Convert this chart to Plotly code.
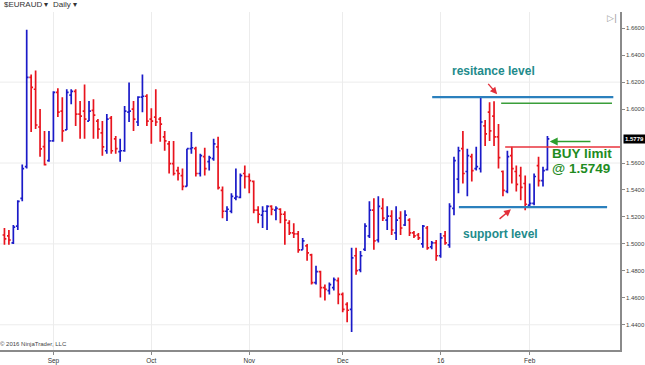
import plotly.graph_objects as go

# ---------------- data (daily EURAUD bars, index = trading day) ----------------
opens = [1.5066, 1.5059, 1.5007, 1.5132, 1.5338, 1.5573, 1.6235, 1.6147, 1.5867, 1.5721,
         1.5618, 1.5764, 1.6124, 1.5985, 1.5845, 1.6103, 1.6132, 1.5963, 1.5985, 1.5911,
         1.5990, 1.5911, 1.5823, 1.5691, 1.5933, 1.5779, 1.5684, 1.5691, 1.5977, 1.6000,
         1.5904, 1.6088, 1.6095, 1.5926, 1.5941, 1.5926, 1.5794, 1.5742, 1.5595, 1.5544,
         1.5507, 1.5426, 1.5706, 1.5706, 1.5522, 1.5647, 1.5610, 1.5632, 1.5720, 1.5397,
         1.5242, 1.5242, 1.5340, 1.5345, 1.5522, 1.5500, 1.5463, 1.5250, 1.5213, 1.5242,
         1.5279, 1.5250, 1.5257, 1.5220, 1.5154, 1.5081, 1.5074, 1.4956, 1.4985, 1.4919,
         1.4713, 1.4794, 1.4676, 1.4654, 1.4676, 1.4728, 1.4625, 1.4552, 1.4515, 1.4912,
         1.4808, 1.4960, 1.5059, 1.5250, 1.5029, 1.5264, 1.5176, 1.5206, 1.5081, 1.5191,
         1.5140, 1.5176, 1.5081, 1.5066, 1.5000, 1.5118, 1.4978, 1.5007, 1.4912, 1.5059,
         1.4993, 1.5264, 1.5480, 1.5706, 1.5537, 1.5647, 1.5559, 1.5559, 1.5875, 1.5977,
         1.5948, 1.5794, 1.5537, 1.5389, 1.5654, 1.5537, 1.5507, 1.5448, 1.5287, 1.5301,
         1.5580, 1.5470, 1.5551]
highs = [1.5118, 1.5103, 1.5140, 1.5323, 1.5588, 1.6588, 1.6257, 1.6286, 1.6000, 1.5838,
         1.5838, 1.6132, 1.6154, 1.6088, 1.6147, 1.6147, 1.6147, 1.6059, 1.6183, 1.6059,
         1.6073, 1.5926, 1.5911, 1.5963, 1.5948, 1.5801, 1.5779, 1.6022, 1.6198, 1.6059,
         1.6095, 1.6257, 1.6110, 1.6007, 1.6147, 1.5941, 1.5838, 1.5764, 1.5764, 1.5573,
         1.5559, 1.5706, 1.5830, 1.5720, 1.5669, 1.5713, 1.5654, 1.5779, 1.5794, 1.5426,
         1.5279, 1.5375, 1.5559, 1.5522, 1.5581, 1.5522, 1.5470, 1.5279, 1.5279, 1.5287,
         1.5287, 1.5279, 1.5264, 1.5242, 1.5176, 1.5154, 1.5096, 1.5044, 1.5000, 1.4926,
         1.4838, 1.4801, 1.4698, 1.4713, 1.4750, 1.4750, 1.4640, 1.4567, 1.4971, 1.4971,
         1.4948, 1.5154, 1.5316, 1.5338, 1.5353, 1.5338, 1.5279, 1.5250, 1.5279, 1.5242,
         1.5250, 1.5191, 1.5096, 1.5081, 1.5140, 1.5132, 1.5022, 1.5029, 1.5081, 1.5096,
         1.5301, 1.5647, 1.5720, 1.5838, 1.5706, 1.5669, 1.5720, 1.6088, 1.5919, 1.6051,
         1.6058, 1.5889, 1.5544, 1.5691, 1.5720, 1.5581, 1.5573, 1.5507, 1.5448, 1.5522,
         1.5647, 1.5573, 1.5801]
lows = [1.4993, 1.4993, 1.4999, 1.5103, 1.5316, 1.5559, 1.5830, 1.5852, 1.5647, 1.5581,
        1.5610, 1.5757, 1.5941, 1.5757, 1.5845, 1.6036, 1.5875, 1.5779, 1.5779, 1.5911,
        1.5779, 1.5779, 1.5654, 1.5669, 1.5669, 1.5669, 1.5610, 1.5684, 1.5904, 1.5838,
        1.5875, 1.5977, 1.5875, 1.5742, 1.5875, 1.5757, 1.5691, 1.5522, 1.5507, 1.5470,
        1.5397, 1.5426, 1.5669, 1.5500, 1.5500, 1.5507, 1.5544, 1.5617, 1.5404, 1.5191,
        1.5169, 1.5228, 1.5323, 1.5338, 1.5411, 1.5375, 1.5228, 1.5154, 1.5118, 1.5103,
        1.5213, 1.5176, 1.5154, 1.4993, 1.5066, 1.5044, 1.4934, 1.4956, 1.4875, 1.4698,
        1.4698, 1.4603, 1.4581, 1.4625, 1.4654, 1.4552, 1.4493, 1.4419, 1.4346, 1.4772,
        1.4790, 1.4948, 1.5044, 1.4956, 1.5010, 1.5169, 1.5103, 1.5066, 1.5029, 1.5066,
        1.5132, 1.5059, 1.5044, 1.5029, 1.4971, 1.4956, 1.4960, 1.4875, 1.4897, 1.4993,
        1.4971, 1.5213, 1.5375, 1.5448, 1.5353, 1.5463, 1.5544, 1.5530, 1.5727, 1.5764,
        1.5727, 1.5559, 1.5353, 1.5375, 1.5448, 1.5389, 1.5323, 1.5250, 1.5272, 1.5287,
        1.5426, 1.5426, 1.5544]
closes = [1.5037, 1.5029, 1.5125, 1.5316, 1.5559, 1.6235, 1.6161, 1.5882, 1.5705, 1.5588,
          1.5764, 1.6124, 1.5977, 1.5838, 1.6124, 1.6132, 1.5963, 1.5948, 1.5926, 1.5985,
          1.5955, 1.5852, 1.5720, 1.5926, 1.5691, 1.5706, 1.5691, 1.5985, 1.5985, 1.5926,
          1.6088, 1.6095, 1.5911, 1.5911, 1.5904, 1.5889, 1.5764, 1.5595, 1.5522, 1.5522,
          1.5426, 1.5706, 1.5713, 1.5522, 1.5654, 1.5559, 1.5640, 1.5742, 1.5418, 1.5242,
          1.5257, 1.5353, 1.5350, 1.5507, 1.5500, 1.5470, 1.5250, 1.5220, 1.5242, 1.5279,
          1.5257, 1.5264, 1.5220, 1.5176, 1.5081, 1.5074, 1.4956, 1.5022, 1.4934, 1.4713,
          1.4794, 1.4676, 1.4662, 1.4698, 1.4735, 1.4625, 1.4515, 1.4508, 1.4897, 1.4801,
          1.4912, 1.5132, 1.5250, 1.5022, 1.5279, 1.5191, 1.5206, 1.5103, 1.5176, 1.5118,
          1.5213, 1.5081, 1.5059, 1.5044, 1.5132, 1.4971, 1.5007, 1.4912, 1.5044, 1.5007,
          1.5279, 1.5617, 1.5691, 1.5522, 1.5654, 1.5544, 1.5573, 1.5904, 1.5816, 1.5838,
          1.5794, 1.5640, 1.5397, 1.5647, 1.5559, 1.5441, 1.5419, 1.5294, 1.5301, 1.5500,
          1.5470, 1.5544, 1.5779]
bar_index = list(range(len(closes)))

month_tick_index = [11, 33, 55, 76, 98, 118]
month_tick_labels = ["Sep", "Oct", "Nov", "Dec", "16", "Feb"]

price_ticks = [1.44, 1.46, 1.48, 1.50, 1.52, 1.54, 1.56, 1.60, 1.62, 1.64, 1.66]
price_tick_labels = ["%.4f" % v for v in price_ticks]
grid_levels = [1.44, 1.50, 1.56, 1.62]

resistance_level = 1.6088
green_level = 1.6044
buy_line_level = 1.5718
support_level = 1.5272
arrow_level = 1.5759
last_price = 1.5779

# ---------------- figure ----------------
fig = go.Figure()
fig.add_trace(go.Ohlc(
    x=bar_index, open=opens, high=highs, low=lows, close=closes,
    increasing=dict(line=dict(color="#1a1ac8", width=1.7)),
    decreasing=dict(line=dict(color="#e8141e", width=1.7)),
    tickwidth=0.42, hoverinfo="skip", showlegend=False,
))

shapes = []
for g in grid_levels:
    shapes.append(dict(type="line", xref="paper", x0=0, x1=1, yref="y", y0=g, y1=g,
                       line=dict(color="#ececec", width=1), layer="below"))
shapes += [
    dict(type="line", xref="x", x0=96.1, x1=136.8, yref="y", y0=resistance_level, y1=resistance_level,
         line=dict(color="#2b80bd", width=2.2)),
    dict(type="line", xref="x", x0=111.6, x1=136.5, yref="y", y0=green_level, y1=green_level,
         line=dict(color="#3a9e3a", width=1.5)),
    dict(type="line", xref="x", x0=112.5, x1=138.3, yref="y", y0=buy_line_level, y1=buy_line_level,
         line=dict(color="#e8333d", width=1.5)),
    dict(type="line", xref="x", x0=102.1, x1=135.4, yref="y", y0=support_level, y1=support_level,
         line=dict(color="#2b80bd", width=2.2)),
]

teal = "#228b8b"
green = "#1f8c1f"
annotations = [
    dict(x=109.8, y=1.6279, xref="x", yref="y", text="<b>resitance level</b>", showarrow=False,
         font=dict(family="Liberation Sans, Arial", size=12, color=teal)),
    dict(x=111.4, y=1.5073, xref="x", yref="y", text="<b>support level</b>", showarrow=False,
         font=dict(family="Liberation Sans, Arial", size=12, color=teal)),
    dict(x=122.6, y=1.5669, xref="x", yref="y", text="<b>BUY limit</b>", showarrow=False,
         xanchor="left", font=dict(family="Liberation Sans, Arial", size=13.5, color=green)),
    dict(x=122.6, y=1.5562, xref="x", yref="y", text="<b>@ 1.5749</b>", showarrow=False,
         xanchor="left", font=dict(family="Liberation Sans, Arial", size=13.5, color=green)),
    # arrows
    dict(x=122.5, y=arrow_level, ax=132.0, ay=arrow_level, xref="x", yref="y", axref="x", ayref="y",
         text="", showarrow=True, arrowhead=2, arrowsize=1, arrowwidth=1.6, arrowcolor="#2e9e2e"),
    dict(x=110.7, y=1.6110, ax=108.4, ay=1.6198, xref="x", yref="y", axref="x", ayref="y",
         text="", showarrow=True, arrowhead=2, arrowsize=1, arrowwidth=1.4, arrowcolor="#e3303a"),
    dict(x=113.8, y=1.5257, ax=110.9, ay=1.5176, xref="x", yref="y", axref="x", ayref="y",
         text="", showarrow=True, arrowhead=2, arrowsize=1, arrowwidth=1.4, arrowcolor="#e3303a"),
    # last price tag
    dict(x=1.0, y=last_price, xref="paper", yref="y", text="<b>1.5779</b>", showarrow=False,
         xanchor="left", xshift=3, bgcolor="#000000", borderpad=1,
         font=dict(family="Liberation Sans, Arial", size=6, color="#ffffff")),
    # toolbar / misc text
    dict(x=0.003, y=1.022, xref="paper", yref="paper", text="$EURAUD ▾  Daily ▾", showarrow=False,
         xanchor="left", yanchor="middle", font=dict(family="Liberation Sans, Arial", size=8, color="#333333")),
    dict(x=0.987, y=0.982, xref="paper", yref="paper", text="▷|", showarrow=False,
         xanchor="center", yanchor="middle", font=dict(family="DejaVu Sans", size=9, color="#9a9a9a")),
    dict(x=-0.004, y=0.004, xref="paper", yref="paper", text="© 2016 NinjaTrader, LLC", showarrow=False,
         xanchor="left", yanchor="bottom", font=dict(family="Liberation Sans, Arial", size=6, color="#444444")),
]

fig.update_layout(
    width=645, height=365,
    margin=dict(l=0, r=25, t=12, b=12),
    paper_bgcolor="#ffffff", plot_bgcolor="#ffffff",
    shapes=shapes, annotations=annotations,
    xaxis=dict(range=[-1.0, 138.3], tickmode="array", tickvals=month_tick_index,
               ticktext=month_tick_labels, showgrid=True, gridcolor="#ececec", gridwidth=1,
               zeroline=False, showline=True, linecolor="#8a8a8a", linewidth=1.5,
               ticks="outside", ticklen=3, tickcolor="#8a8a8a",
               tickfont=dict(family="Liberation Sans, Arial", size=6.5, color="#333333"),
               rangeslider=dict(visible=False), fixedrange=True),
    yaxis=dict(side="right", range=[1.4213, 1.6720], tickmode="array", tickvals=price_ticks,
               ticktext=price_tick_labels, showgrid=False, zeroline=False, showline=True,
               linecolor="#8a8a8a", linewidth=1.5, ticks="outside", ticklen=3, tickcolor="#8a8a8a",
               tickfont=dict(family="Liberation Sans, Arial", size=6, color="#444444"),
               fixedrange=True),
)

fig.write_html("out.html", config={"displayModeBar": False},
               post_script="document.body.style.margin='0px'; document.body.style.overflow='hidden';")
